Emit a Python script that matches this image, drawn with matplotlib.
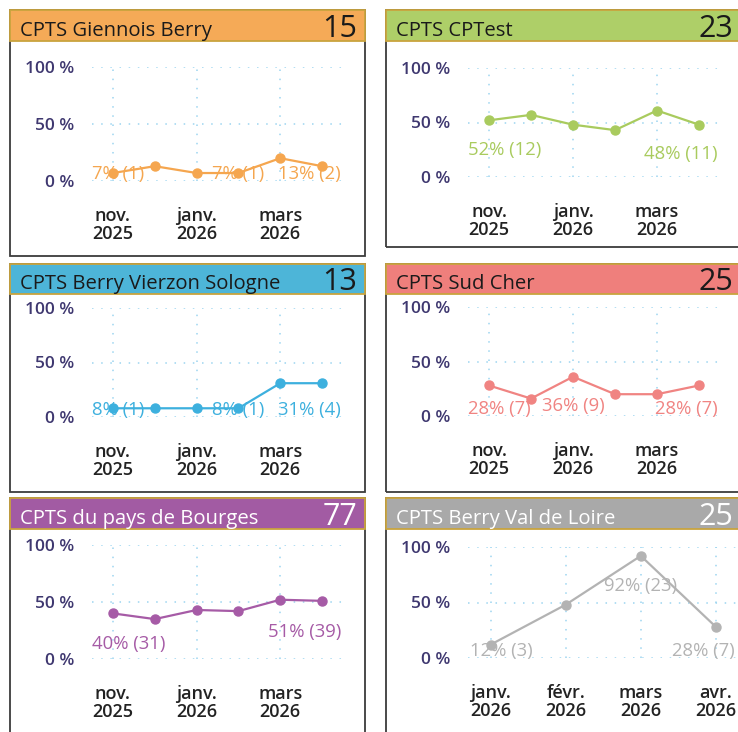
import matplotlib.pyplot as plt
from matplotlib.patches import Rectangle
from matplotlib.transforms import offset_copy

plt.rcParams['font.family'] = ['Open Sans', 'DejaVu Sans']

W, H = 738, 732

# --- data -------------------------------------------------------------
titles = ["CPTS Giennois Berry", "CPTS CPTest", "CPTS Berry Vierzon Sologne",
          "CPTS Sud Cher", "CPTS du pays de Bourges", "CPTS Berry Val de Loire"]
totals = [15, 23, 13, 25, 77, 25]

months_6 = ["nov.\n2025", "déc.\n2025", "janv.\n2026", "févr.\n2026", "mars\n2026", "avr.\n2026"]
months_4 = ["janv.\n2026", "févr.\n2026", "mars\n2026", "avr.\n2026"]

giennois = [7, 13, 7, 7, 20, 13]
giennois_n = [1, 2, 1, 1, 3, 2]
cptest = [52, 57, 48, 43, 61, 48]
cptest_n = [12, 13, 11, 10, 14, 11]
vierzon = [8, 8, 8, 8, 31, 31]
vierzon_n = [1, 1, 1, 1, 4, 4]
sud_cher = [28, 16, 36, 20, 20, 28]
sud_cher_n = [7, 4, 9, 5, 5, 7]
bourges = [40, 35, 43, 42, 52, 51]
bourges_n = [31, 27, 33, 32, 40, 39]
val_loire = [12, 48, 92, 28]
val_loire_n = [3, 12, 23, 7]

# which points carry a value label
shown = [[0, 3, 5], [0, 5], [0, 3, 5], [0, 2, 5], [0, 5], [0, 2, 3]]

series = [giennois, cptest, vierzon, sud_cher, bourges, val_loire]
counts = [giennois_n, cptest_n, vierzon_n, sud_cher_n, bourges_n, val_loire_n]
months = [months_6, months_6, months_6, months_6, months_6, months_4]
tick_step = [2, 2, 2, 2, 2, 1]

header_col = ['#F5AA57', '#AECF68', '#4DB5D8', '#EF7F7C', '#A25BA3', '#A9A9A9']
line_col = ['#F5A64F', '#A9CB5E', '#3DB0DE', '#F08482', '#A65BA6', '#B3B3B3']
text_col = ['#1a1a1a', '#1a1a1a', '#1a1a1a', '#1a1a1a', 'white', 'white']

# --- layout (pixels) --------------------------------------------------
box_x = [(10, 365), (386, 750)] * 3
head_y = [(10, 41), (10, 41), (264, 294), (264, 294), (498, 529), (498, 529)]
box_bot = [256, 247, 492, 492, 745, 745]
plot_y = [(67, 181), (68, 177), (308, 417), (307, 416), (545, 659), (547, 658)]
plot_x = [(92, 343), (468, 720), (92, 343), (468, 720), (92, 343), (468, 761)]


def fx(px):
    return px / W


def fy(py):
    return 1 - py / H


fig = plt.figure(figsize=(W / 100, H / 100), dpi=100)

for i in range(6):
    x0, x1 = box_x[i]
    h0, h1 = head_y[i]
    # panel frame
    fig.patches.append(Rectangle((fx(x0), fy(box_bot[i])), fx(x1 - x0), (box_bot[i] - h0) / H,
                                 transform=fig.transFigure, fill=False,
                                 edgecolor='#3c3c3c', lw=1.3, zorder=0))
    # header band
    fig.patches.append(Rectangle((fx(x0), fy(h1)), fx(x1 - x0), (h1 - h0) / H,
                                 transform=fig.transFigure, facecolor=header_col[i],
                                 edgecolor='#C9A43E', lw=1.3, zorder=1))
    fig.text(fx(x0 + 10), fy(h1 - 5), titles[i], fontsize=14.6,
             color=text_col[i], va='baseline', ha='left')
    fig.text(fx(x0 + 347), fy(h1 - 4), str(totals[i]), fontsize=22,
             color=text_col[i], va='baseline', ha='right')

    # chart area
    px0, px1 = plot_x[i]
    py0, py1 = plot_y[i]
    ax = fig.add_axes([fx(px0), fy(py1), fx(px1 - px0), (py1 - py0) / H])
    ax.set_facecolor('none')
    vals = series[i]
    x = list(range(len(vals)))
    ax.set_ylim(0, 100)
    if len(vals) == 6:
        ax.set_xlim(-0.5, 5.5)
    else:
        ax.set_xlim(-0.3, 3.6)

    ax.plot(x, vals, '-o', color=line_col[i], lw=1.6, ms=6.5, clip_on=False, zorder=3)

    ax.set_yticks([0, 50, 100])
    ax.set_yticklabels(['0 %', '50 %', '100 %'])
    ticks = x[::tick_step[i]]
    ax.set_xticks(ticks)
    ax.set_xticklabels([months[i][k] for k in ticks], linespacing=1.0)
    ax.tick_params(length=0)
    ax.tick_params(axis='y', pad=13, labelsize=12.5, labelcolor='#3F3870')
    for t in ax.get_yticklabels():
        t.set_fontweight('semibold')
    ax.tick_params(axis='x', pad=19, labelsize=13, labelcolor='#222222')
    for t in ax.get_xticklabels():
        t.set_fontweight('semibold')
    ax.grid(True, color='#9DD5F0', lw=1.1, linestyle=(0, (1, 5)))
    for s in ax.spines.values():
        s.set_visible(False)

    for k in shown[i]:
        ly = max(vals[k] - 27, 6)
        label = f"{vals[k]}% ({counts[i][k]})"
        if k == 0:
            tr = offset_copy(ax.transData, fig=fig, x=-21, y=0, units='dots')
            ha = 'left'
        elif k == len(vals) - 1:
            tr = offset_copy(ax.transData, fig=fig, x=19, y=0, units='dots')
            ha = 'right'
        else:
            tr = ax.transData
            ha = 'center'
        ax.text(k, ly, label, transform=tr, ha=ha, va='center', fontsize=13.3,
                color=line_col[i], zorder=4, clip_on=False)

fig.savefig('out.png', dpi=100)
